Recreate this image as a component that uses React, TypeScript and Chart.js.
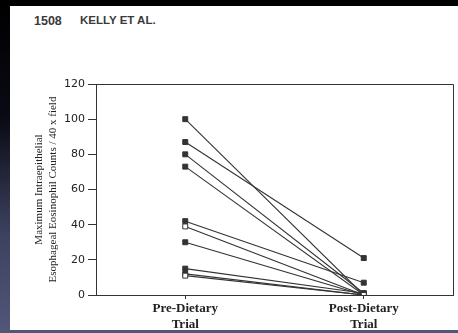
import React, { useEffect, useRef } from "react";
import { Chart, registerables } from "chart.js";

Chart.register(...registerables);

const categories: string[][] = [["Pre-Dietary", "Trial"], ["Post-Dietary", "Trial"]];
const preValues = [100, 87, 80, 73, 42, 39, 30, 15, 12, 11];
const postValues = [0, 21, 1, 0, 7, 0, 0, 1, 0, 0];
const openMarker = [false, false, false, false, false, true, false, false, false, true];
const yTicks = [0, 20, 40, 60, 80, 100, 120];
const yTitle = ["Maximum Intraepithelial", "Esophageal Eosinophil Counts / 40 x field"];
const header = ["1508", "KELLY ET AL."];

const INK = "#333333";

const framePlugin = {
  id: "frame",
  afterDraw(chart: any) {
    const { ctx, chartArea } = chart;
    ctx.save();
    ctx.strokeStyle = INK;
    ctx.lineWidth = 1;
    ctx.beginPath();
    ctx.moveTo(chartArea.left, chartArea.top + 0.5);
    ctx.lineTo(chartArea.right + 0.5, chartArea.top + 0.5);
    ctx.lineTo(chartArea.right + 0.5, chartArea.bottom);
    ctx.stroke();
    ctx.restore();
  },
};

export default function App() {
  const ref = useRef<HTMLCanvasElement | null>(null);
  useEffect(() => {
    if (!ref.current) return;
    const datasets = preValues.map((pre, i) => ({
      label: "Patient " + (i + 1),
      data: [pre, postValues[i]],
      borderColor: INK,
      borderWidth: 1.1,
      pointStyle: "rect" as const,
      pointRadius: 3.5,
      pointBorderWidth: 1,
      pointBorderColor: INK,
      pointBackgroundColor: openMarker[i] ? "#ffffff" : INK,
      order: openMarker[i] ? 0 : 1,
    }));
    const chart = new Chart(ref.current, {
      type: "line",
      data: { labels: categories, datasets },
      plugins: [framePlugin],
      options: {
        animation: false,
        responsive: true,
        maintainAspectRatio: false,
        layout: { padding: { top: 24, right: 5, left: 0, bottom: 0 } },
        plugins: { legend: { display: false }, tooltip: { enabled: false } },
        scales: {
          x: {
            offset: true,
            grid: {
              display: true,
              drawOnChartArea: false,
              drawTicks: true,
              tickLength: 4,
              color: INK,
              offset: false,
            },
            border: { display: true, color: INK, width: 1 },
            ticks: {
              color: "#222",
              padding: 2,
              font: { family: "'Liberation Serif', serif", size: 13, weight: "bold" },
            },
            afterFit: (s: any) => {
              s.height = 35;
            },
          },
          y: {
            min: 0,
            max: 120,
            afterBuildTicks: (s: any) => {
              s.ticks = yTicks.map((v) => ({ value: v }));
            },
            grid: {
              display: true,
              drawOnChartArea: false,
              drawTicks: true,
              tickLength: 8,
              color: INK,
            },
            border: { display: true, color: INK, width: 1 },
            ticks: {
              color: "#222",
              padding: 3,
              font: { family: "'DejaVu Sans', sans-serif", size: 11 },
            },
            title: {
              display: true,
              text: yTitle,
              color: "#222",
              padding: { top: 23, bottom: 0 },
              font: { family: "'Liberation Serif', serif", size: 11 },
            },
            afterFit: (s: any) => {
              s.width = 86;
            },
          },
        },
      },
    });
    return () => chart.destroy();
  }, []);

  const headerStyle: React.CSSProperties = {
    position: "absolute",
    top: 14,
    fontFamily: "'Liberation Sans', Arial, sans-serif",
    fontSize: 12.5,
    fontWeight: "bold",
    color: "#3a3a3a",
    whiteSpace: "pre",
  };

  return (
    <div
      style={{
        position: "fixed",
        left: 0,
        top: 0,
        width: 458,
        height: 333,
        background: "#000",
        overflow: "hidden",
      }}
    >
      <div
        style={{
          position: "absolute",
          left: 0,
          top: 0,
          width: 10,
          height: 333,
          background: "linear-gradient(to bottom, #000 0%, #0a0a14 35%, #3c4160 70%, #52577a 100%)",
        }}
      />
      <div
        style={{
          position: "absolute",
          left: 10,
          top: 6,
          width: 448,
          height: 324,
          background: "#ffffff",
        }}
      />
      <div
        style={{
          position: "absolute",
          left: 8,
          top: 330,
          width: 450,
          height: 3,
          background: "#52577a",
        }}
      />
      <div style={{ ...headerStyle, left: 34 }}>{header[0]}</div>
      <div style={{ ...headerStyle, left: 80, fontSize: 11.5 }}>{header[1]}</div>
      <div style={{ position: "absolute", left: 10, top: 60, width: 448, height: 270 }}>
        <canvas ref={ref} />
      </div>
    </div>
  );
}
